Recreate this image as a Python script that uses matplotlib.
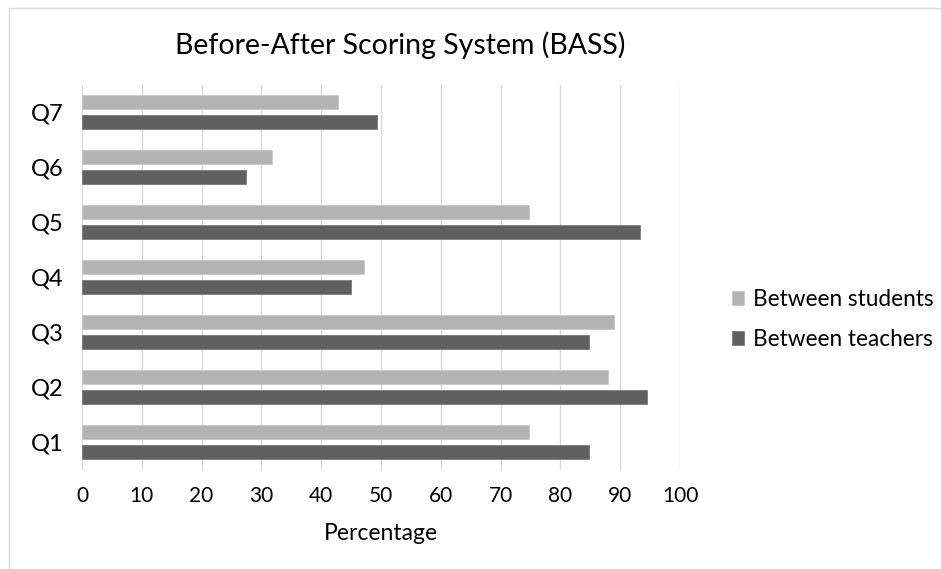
import numpy as np
import matplotlib
matplotlib.use('Agg')
import matplotlib.pyplot as plt
from matplotlib.patches import Rectangle

plt.rcParams['font.family'] = ['Lato', 'DejaVu Sans']

questions = ['Q1', 'Q2', 'Q3', 'Q4', 'Q5', 'Q6', 'Q7']
students = [74.7, 87.9, 89.0, 47.2, 74.7, 31.8, 42.8]
teachers = [84.7, 94.5, 84.7, 45.0, 93.3, 27.4, 49.4]
x_ticks = [0, 10, 20, 30, 40, 50, 60, 70, 80, 90, 100]

col_students = '#b3b3b3'
col_teachers = '#606060'

fig = plt.figure(figsize=(9.41, 5.69), dpi=100)
# light frame round the chart area (right and bottom edges run off the image)
fig.patches.append(Rectangle((9/941, -1), 2, 1 + (569-8)/569, transform=fig.transFigure,
                             fill=False, edgecolor='#d9d9d9', lw=1))
ax = fig.add_axes([82/941, 1 - 469.5/569, 598/941, 385/569])

y = np.arange(len(questions))
h = 0.25
off = 0.185
ax.barh(y + off, students, height=h, color=col_students, edgecolor='#c8c8c8',
        lw=0.6, label='Between students', zorder=3)
ax.barh(y - off, teachers, height=h, color=col_teachers, edgecolor='#7a7a7a',
        lw=0.6, label='Between teachers', zorder=3)

ax.set_xlim(0, 100)
ax.set_ylim(-0.5, len(questions) - 0.5)
ax.set_xticks(x_ticks)
ax.set_yticks(y)
ax.set_yticklabels(questions, fontsize=17)
ax.tick_params(axis='x', labelsize=15, length=0, pad=12)
ax.tick_params(axis='y', length=0, pad=13)
ax.grid(axis='x', color='#d9d9d9', lw=1, zorder=0)
for s in ax.spines.values():
    s.set_visible(False)
ax.set_xlabel('Percentage', fontsize=16.5, labelpad=12)

fig.text(400/941, 1 - 45/569, 'Before-After Scoring System (BASS)', fontsize=20.5,
         ha='center', va='center')

ax.legend(loc='center left', bbox_to_anchor=(1.06, 0.39), frameon=False,
          fontsize=16.3, handlelength=0.55, handleheight=0.55, labelspacing=0.85,
          handletextpad=0.4, borderpad=0.2)

fig.savefig('out.png', dpi=100)
